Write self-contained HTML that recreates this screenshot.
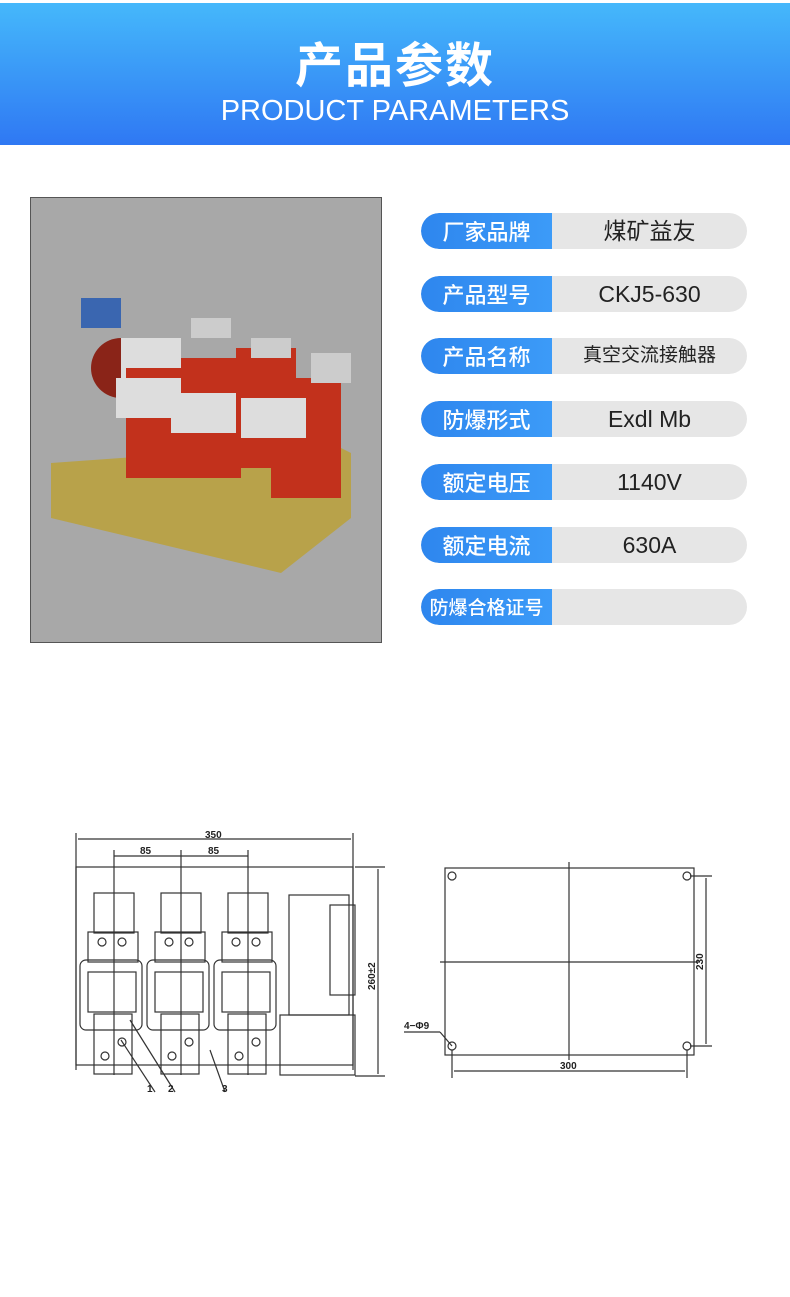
<!DOCTYPE html>
<html><head><meta charset="utf-8"><style>
body{margin:0;width:790px;height:1297px;background:#fff;position:relative;overflow:hidden;font-family:"Liberation Sans","Noto Sans CJK SC",sans-serif}
.hd{position:absolute;left:0;top:3px;width:790px;height:142px;background:linear-gradient(#45b8fb,#2f78f3)}
.t1{position:absolute;top:28px;width:790px;text-align:center;color:#fff;font-size:48px;font-weight:bold;letter-spacing:2px;line-height:60px;font-family:"Noto Sans CJK SC",sans-serif}
.t2{position:absolute;top:88px;width:790px;text-align:center;color:#fff;font-size:29px;line-height:40px;font-family:"Liberation Sans Narrow","Liberation Sans",sans-serif}
.photo{position:absolute;left:30px;top:197px;width:350px;height:444px;border:1px solid #555;background:#a8a8a8}
.row{position:absolute;left:421px;width:326px;height:36px;border-radius:18px;background:#e6e6e6;overflow:hidden}
.row .k{position:absolute;left:0;top:0;width:131px;height:36px;background:linear-gradient(90deg,#2e86ee,#3c9bf8);border-radius:18px 0 0 18px;color:#fff;font-size:22px;line-height:36px;text-align:center;font-family:"Noto Sans CJK SC",sans-serif;font-weight:500}
.row .v{position:absolute;left:131px;top:0;width:195px;height:36px;text-align:center;font-size:23px;line-height:36px;color:#222}
</style></head><body>
<div class="hd"><div class="t1">产品参数</div><div class="t2">PRODUCT PARAMETERS</div></div>
<div class="photo">
<svg width="350" height="444" viewBox="0 0 350 444">
<polygon points="20,265 300,245 320,255 320,320 250,375 20,320" fill="#b8a24a"/>
<rect x="50" y="100" width="40" height="30" fill="#3a66b0"/>
<rect x="60" y="140" width="70" height="60" rx="30" fill="#8a2418"/>
<rect x="90" y="140" width="60" height="55" fill="#ddd"/>
<rect x="95" y="170" width="60" height="110" fill="#c2311c"/>
<rect x="150" y="160" width="60" height="120" fill="#c2311c"/>
<rect x="205" y="150" width="60" height="120" fill="#c2311c"/>
<rect x="240" y="180" width="70" height="120" fill="#c2311c"/>
<rect x="85" y="180" width="65" height="40" fill="#ddd"/>
<rect x="140" y="195" width="65" height="40" fill="#ddd"/>
<rect x="210" y="200" width="65" height="40" fill="#ddd"/>
<rect x="160" y="120" width="40" height="20" fill="#ccc"/>
<rect x="220" y="140" width="40" height="20" fill="#ccc"/>
<rect x="280" y="155" width="40" height="30" fill="#ccc"/>
</svg></div>
<div class="row" style="top:213px"><div class="k">厂家品牌</div><div class="v">煤矿益友</div></div>
<div class="row" style="top:276px"><div class="k">产品型号</div><div class="v">CKJ5-630</div></div>
<div class="row" style="top:338px"><div class="k">产品名称</div><div class="v" style="font-size:19px">真空交流接触器</div></div>
<div class="row" style="top:401px"><div class="k">防爆形式</div><div class="v">Exdl Mb</div></div>
<div class="row" style="top:464px"><div class="k">额定电压</div><div class="v">1140V</div></div>
<div class="row" style="top:527px"><div class="k">额定电流</div><div class="v">630A</div></div>
<div class="row" style="top:589px"><div class="k" style="font-size:19px">防爆合格证号</div><div class="v"></div></div>
<svg style="position:absolute;left:0;top:0" width="790" height="1297" fill="none" stroke="#333" stroke-width="1.2" font-family="Liberation Sans" font-size="10" font-weight="bold">
<line x1="76" y1="833" x2="76" y2="1070"/><line x1="353" y1="833" x2="353" y2="1070"/>
<line x1="78" y1="839" x2="351" y2="839"/><text x="205" y="838" fill="#222" stroke="none">350</text>
<line x1="114" y1="856" x2="248" y2="856"/>
<text x="140" y="854" fill="#222" stroke="none">85</text><text x="208" y="854" fill="#222" stroke="none">85</text>
<line x1="114" y1="850" x2="114" y2="1075"/><line x1="181" y1="850" x2="181" y2="1075"/><line x1="248" y1="850" x2="248" y2="1075"/>
<line x1="355" y1="867" x2="385" y2="867"/><line x1="355" y1="1076" x2="385" y2="1076"/>
<line x1="378" y1="869" x2="378" y2="1074"/><text x="375" y="990" fill="#222" stroke="none" transform="rotate(-90 375 990)">260±2</text>
<rect x="76" y="867" width="277" height="198"/>
<g id="p"><rect x="94" y="893" width="40" height="40"/><rect x="88" y="932" width="50" height="30"/><rect x="80" y="960" width="62" height="70" rx="6"/><rect x="88" y="972" width="48" height="40"/><rect x="94" y="1014" width="38" height="60"/><circle cx="102" cy="942" r="4"/><circle cx="122" cy="942" r="4"/><circle cx="105" cy="1056" r="4"/><circle cx="122" cy="1042" r="4"/></g>
<use href="#p" x="67"/><use href="#p" x="134"/>
<rect x="289" y="895" width="60" height="120"/><rect x="280" y="1015" width="75" height="60"/><rect x="330" y="905" width="25" height="90"/>
<line x1="121" y1="1040" x2="155" y2="1092"/><line x1="130" y1="1020" x2="175" y2="1092"/><line x1="210" y1="1050" x2="225" y2="1092"/>
<text x="147" y="1092" fill="#222" stroke="none">1</text><text x="168" y="1092" fill="#222" stroke="none">2</text><text x="222" y="1092" fill="#222" stroke="none">3</text>
<rect x="445" y="868" width="249" height="187"/>
<line x1="569" y1="862" x2="569" y2="1060"/><line x1="440" y1="962" x2="700" y2="962"/>
<circle cx="452" cy="876" r="4"/><circle cx="687" cy="876" r="4"/><circle cx="452" cy="1046" r="4"/><circle cx="687" cy="1046" r="4"/>
<line x1="690" y1="876" x2="712" y2="876"/><line x1="690" y1="1046" x2="712" y2="1046"/><line x1="706" y1="878" x2="706" y2="1044"/>
<text x="703" y="970" fill="#222" stroke="none" transform="rotate(-90 703 970)">230</text>
<line x1="452" y1="1050" x2="452" y2="1078"/><line x1="687" y1="1050" x2="687" y2="1078"/><line x1="454" y1="1071" x2="685" y2="1071"/>
<text x="560" y="1069" fill="#222" stroke="none">300</text>
<text x="404" y="1029" fill="#222" stroke="none">4−Φ9</text><line x1="404" y1="1032" x2="440" y2="1032"/><line x1="440" y1="1032" x2="452" y2="1046"/>
</svg>
</body></html>
